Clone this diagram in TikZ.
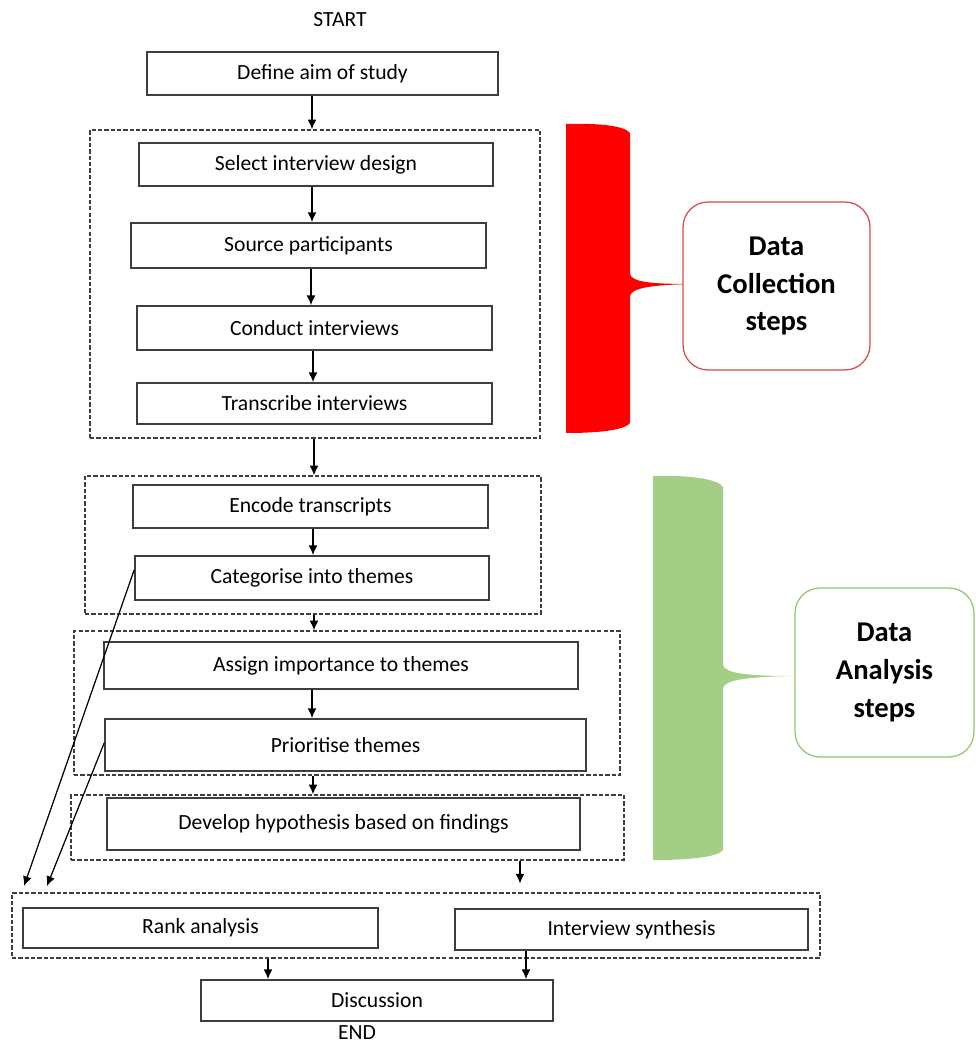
\documentclass[tikz,border=0pt]{standalone}
\usepackage{fontspec}
\setmainfont{Carlito}
\usetikzlibrary{arrows.meta}
\definecolor{boxline}{RGB}{62,62,62}
\definecolor{collectred}{RGB}{255,0,0}
\definecolor{collectline}{RGB}{214,72,72}
\definecolor{analysegreen}{RGB}{163,206,134}
\definecolor{analyseline}{RGB}{146,196,108}

\begin{document}
\begin{tikzpicture}[x=0.02cm,y=-0.02cm,
    stepbox/.style={draw=boxline,line width=1pt,inner sep=0pt,font=\fontsize{12.3}{14}\selectfont},
    groupbox/.style={draw=boxline,line width=0.75pt,dash pattern=on 2.4pt off 1.2pt,inner sep=0pt},
    notebox/.style={rounded corners=0.5cm,line width=0.7pt,fill=white,align=center,
      font=\fontsize{16.3}{21.5}\selectfont\bfseries},
    arr/.style={-{Latex[length=5.5pt,width=5pt]},line width=0.7pt,black}]
  \useasboundingbox (0,0) rectangle (975,1043);

  \node[font=\fontsize{12.3}{14}\selectfont] (start) at (340,20) {START};
  \node[stepbox,minimum width=7.02cm,minimum height=0.86cm] (aim) at (322.5,73.5) {Define aim of study};

  \node[groupbox,minimum width=9cm,minimum height=6.16cm] (g1) at (315,284) {};
  \node[stepbox,minimum width=7.08cm,minimum height=0.86cm] (design) at (316,164.5) {Select interview design};
  \node[stepbox,minimum width=7.1cm,minimum height=0.9cm] (source) at (308.5,245.5) {Source participants};
  \node[stepbox,minimum width=7.1cm,minimum height=0.88cm] (conduct) at (314.5,328) {Conduct interviews};
  \node[stepbox,minimum width=7.1cm,minimum height=0.82cm] (transcribe) at (314.5,403.5) {Transcribe interviews};

  \node[groupbox,minimum width=9.12cm,minimum height=2.76cm] (g2) at (313,545) {};
  \node[stepbox,minimum width=7.1cm,minimum height=0.86cm] (encode) at (310.5,506.5) {Encode transcripts};
  \node[stepbox,minimum width=7.08cm,minimum height=0.88cm] (themes) at (312,578) {Categorise into themes};

  \node[groupbox,minimum width=10.92cm,minimum height=2.88cm] (g3) at (347,703) {};
  \node[stepbox,minimum width=9.48cm,minimum height=0.94cm] (assign) at (341,665.5) {Assign importance to themes};
  \node[stepbox,minimum width=9.62cm,minimum height=1.04cm] (prioritise) at (345.5,745) {Prioritise themes};

  \node[groupbox,minimum width=11.06cm,minimum height=1.3cm] (g4) at (347.5,827.5) {};
  \node[stepbox,minimum width=9.46cm,minimum height=1.04cm] (hypothesis) at (343.5,824) {Develop hypothesis based on findings};

  \node[groupbox,minimum width=16.16cm,minimum height=1.3cm] (g5) at (416,925.5) {};
  \node[stepbox,minimum width=7.1cm,minimum height=0.8cm] (rank) at (200.5,928) {Rank analysis};
  \node[stepbox,minimum width=7.06cm,minimum height=0.82cm] (synthesis) at (631.5,929.5) {Interview synthesis};

  \node[stepbox,minimum width=7.04cm,minimum height=0.82cm] (discussion) at (377,1000.5) {Discussion};
  \node[font=\fontsize{12.3}{14}\selectfont] (end) at (357,1033) {END};

  \draw[arr] (aim.south -| 312,0) -- (g1.north -| 312,0);
  \draw[arr] (design.south -| 312,0) -- (source.north -| 312,0);
  \draw[arr] (source.south -| 311,0) -- (conduct.north -| 311,0);
  \draw[arr] (conduct.south -| 313,0) -- (transcribe.north -| 313,0);
  \draw[arr] (g1.south -| 314,0) -- (g2.north -| 314,0);
  \draw[arr] (encode.south -| 313,0) -- (themes.north -| 313,0);
  \draw[arr] (g2.south -| 314,0) -- (g3.north -| 314,0);
  \draw[arr] (assign.south -| 312,0) -- (prioritise.north -| 312,0);
  \draw[arr] (g3.south -| 313,0) -- (g4.north -| 313,0);
  \draw[arr,shorten >=5pt] (g4.south -| 520,0) -- (g5.north -| 520,0);
  \draw[arr] (g5.south -| 268,0) -- (discussion.north -| 268,0);
  \draw[arr] (synthesis.south -| 526,0) -- (discussion.north -| 526,0);

  \coordinate (in1) at (24,886);
  \coordinate (in2) at (47,886);
  \draw[arr] (themes.west |- 0,570) -- (in1);
  \draw[arr] (prioritise.west |- 0,743) -- (in2);

  \fill[collectred] (566,124) .. controls (600,123) and (625,126) .. (630,133) -- (630,274)
    .. controls (632,282) and (650,284) .. (692,284) .. controls (650,285) and (632,288) .. (630,296)
    -- (630,423) .. controls (625,430) and (600,433) .. (566,433) -- cycle;
  \fill[analysegreen] (653,476) .. controls (690,475) and (718,479) .. (723,487) -- (723,665)
    .. controls (725,673) and (745,676) .. (792,676) .. controls (745,677) and (725,680) .. (723,688)
    -- (723,850) .. controls (718,857) and (690,860) .. (653,860) -- cycle;

  \node[notebox,draw=collectline,minimum width=3.74cm,minimum height=3.36cm] (collect) at (776.5,286) {Data\\Collection\\steps};
  \node[notebox,draw=analyseline,minimum width=3.58cm,minimum height=3.38cm] (analyse) at (884.5,672.5) {Data\\Analysis\\steps};
\end{tikzpicture}
\end{document}
